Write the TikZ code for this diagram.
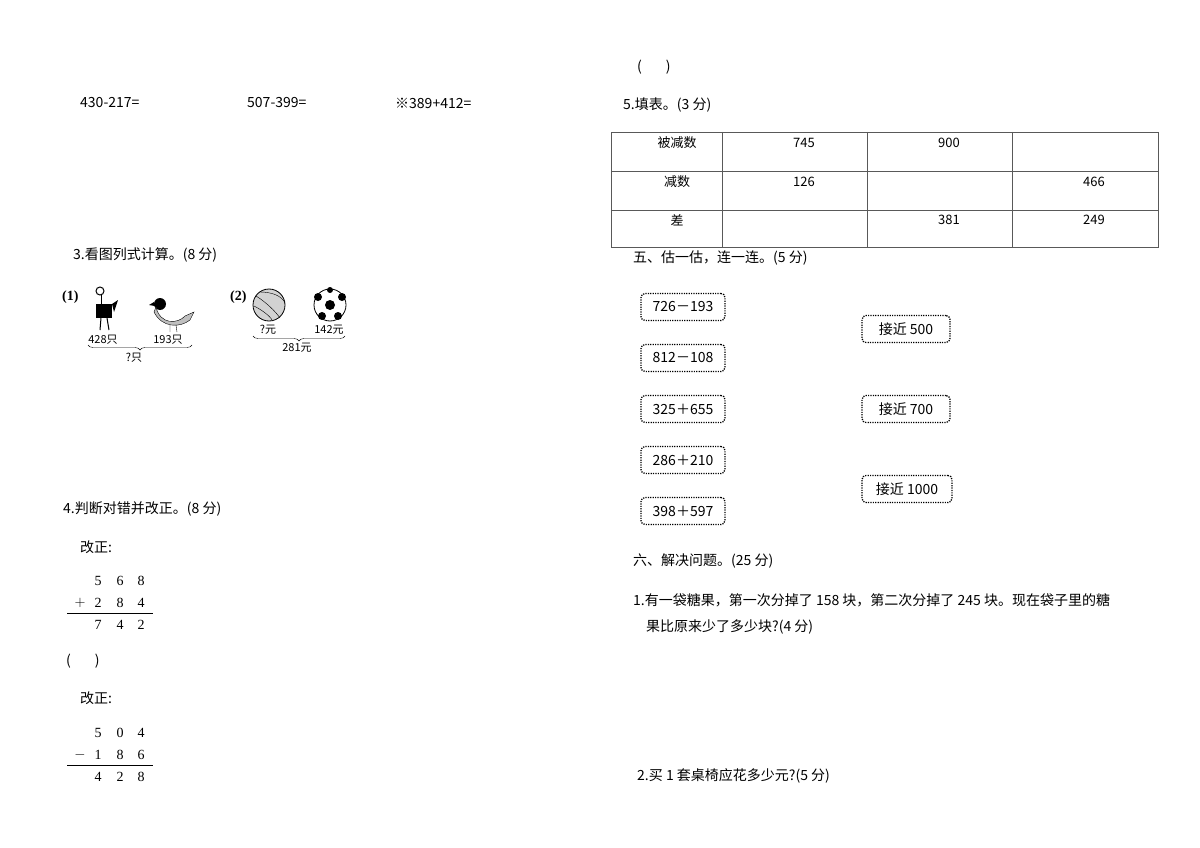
\documentclass[tikz,border=0pt]{standalone}
\usepackage{fontspec}
\setmainfont{Liberation Serif}
\newfontfamily\cjk{Noto Sans CJK SC}
\usetikzlibrary{decorations.pathreplacing}
\begin{document}
\begin{tikzpicture}[x=1pt,y=-1pt,
  txt/.style={anchor=west,inner sep=0pt,font=\fontsize{14}{16}\selectfont\cjk},
  ctxt/.style={inner sep=0pt,font=\fontsize{13}{15}\selectfont\cjk},
  dig/.style={inner sep=0pt,font=\fontsize{14}{16}\selectfont},
  sm/.style={inner sep=0pt,font=\fontsize{11}{12}\selectfont\cjk},
  dbox/.style={draw,dash pattern=on 1.2pt off 1.2pt,line width=1.3pt,rounded corners=4pt,minimum width=84pt,minimum height=27pt,inner sep=2pt,font=\fontsize{14}{16}\selectfont\cjk}]
\useasboundingbox (0,0) rectangle (1200,848);
\fill[white] (0,0) rectangle (1200,848);
% left column
\node[txt] (c1) at (80,103) {430-217=};
\node[txt] (c2) at (247,103) {507-399=};
\node[txt] (c3) at (395,103) {※389+412=};
\node[txt] (q3) at (73,255) {3.看图列式计算。(8 分)};
\node[txt,font=\fontsize{14}{16}\selectfont\bfseries] (p1) at (62,297) {(1)};
\node[txt,font=\fontsize{14}{16}\selectfont\bfseries] (p2) at (230,297) {(2)};
% ostrich
\begin{scope}[line width=1pt]
\draw (100,291) circle (4);
\draw (101,295) -- (101,305);
\fill (96,304) rectangle (112,318);
\fill (112,304) -- (118,300) -- (114,312) -- cycle;
\draw (101,318) -- (100,330) (107,318) -- (109,330);
\end{scope}
% bird
\begin{scope}
\fill (160,304) circle (6);
\filldraw[fill=gray!50] (156,307) .. controls (160,325) and (178,324) .. (185,316) -- (194,312) -- (190,320) .. controls (180,328) and (162,328) .. (154,312) -- cycle;
\fill (154,302) -- (149,305) -- (155,306) -- cycle;
\draw (170,325) -- (170,332) (176,325) -- (177,332);
\end{scope}
\node[sm] (n428) at (103,340) {428只};
\node[sm] (n193) at (168,340) {193只};
\draw[decorate,decoration={brace,mirror,amplitude=5pt}] (88,345) -- (192,345);
\node[sm] (nq1) at (134,358) {?只};
% balls
\filldraw[fill=gray!35,thick] (269,305) circle (16);
\draw (256,296) .. controls (266,302) and (276,312) .. (280,318);
\draw (254,306) .. controls (262,310) and (270,316) .. (272,320);
\draw (260,292) .. controls (272,292) and (282,296) .. (285,303);
\filldraw[fill=white,thick] (330,305) circle (16);
\fill (330,305) circle (5);
\fill (318,297) circle (4) (342,297) circle (4) (322,316) circle (4) (338,316) circle (4) (330,290) circle (3);
\node[sm] (nq2) at (268,330) {?元};
\node[sm] (n142) at (329,330) {142元};
\draw[decorate,decoration={brace,mirror,amplitude=5pt}] (253,336) -- (345,336);
\node[sm] (n281) at (297,348) {281元};
% question 4
\node[txt] (q4) at (63,509) {4.判断对错并改正。(8 分)};
\node[txt] (g1) at (80,547) {改正:};
\node[dig] at (98,581) {5}; \node[dig] at (120,581) {6}; \node[dig] at (141,581) {8};
\node[dig] at (80,603) {$+$}; \node[dig] at (98,603) {2}; \node[dig] at (120,603) {8}; \node[dig] at (141,603) {4};
\draw (67,613) -- (153,613);
\node[dig] at (98,625) {7}; \node[dig] at (120,625) {4}; \node[dig] at (141,625) {2};
\node[txt] (b1) at (66,661) {(\hspace{24pt})};
\node[txt] (g2) at (80,698) {改正:};
\node[dig] at (98,733) {5}; \node[dig] at (120,733) {0}; \node[dig] at (141,733) {4};
\node[dig] at (80,755) {$-$}; \node[dig] at (98,755) {1}; \node[dig] at (120,755) {8}; \node[dig] at (141,755) {6};
\draw (67,765) -- (153,765);
\node[dig] at (98,777) {4}; \node[dig] at (120,777) {2}; \node[dig] at (141,777) {8};
% right column
\node[txt] (b0) at (637,67) {(\hspace{24pt})};
\node[txt] (q5) at (623,105) {5.填表。(3 分)};
\draw[gray!70!black] (611,132) rectangle (1158,247);
\draw[gray!70!black] (611,171) -- (1158,171) (611,210) -- (1158,210);
\draw[gray!70!black] (722,132) -- (722,247) (867,132) -- (867,247) (1012,132) -- (1012,247);
\node[ctxt] at (677,143) {被减数};
\node[ctxt] at (677,182) {减数};
\node[ctxt] at (677,220) {差};
\node[ctxt] at (804,143) {745};
\node[ctxt] at (949,143) {900};
\node[ctxt] at (804,182) {126};
\node[ctxt] at (1094,182) {466};
\node[ctxt] at (949,220) {381};
\node[ctxt] at (1094,220) {249};
\node[txt] (q6) at (633,258) {五、估一估，连一连。(5 分)};
\node[dbox] (l1) at (683,307) {726－193};
\node[dbox] (l2) at (683,358) {812－108};
\node[dbox] (l3) at (683,409) {325＋655};
\node[dbox] (l4) at (683,460) {286＋210};
\node[dbox] (l5) at (683,511) {398＋597};
\node[dbox,minimum width=88pt] (r1) at (906,329) {接近 500};
\node[dbox,minimum width=88pt] (r2) at (906,409) {接近 700};
\node[dbox,minimum width=90pt] (r3) at (907,489) {接近 1000};
\node[txt] (q7) at (633,561) {六、解决问题。(25 分)};
\node[txt] (a1) at (633,600) {1.有一袋糖果，第一次分掉了 158 块，第二次分掉了 245 块。现在袋子里的糖};
\node[txt] (a1b) at (646,627) {果比原来少了多少块?(4 分)};
\node[txt] (a2) at (637,776) {2.买 1 套桌椅应花多少元?(5 分)};
\end{tikzpicture}
\end{document}
